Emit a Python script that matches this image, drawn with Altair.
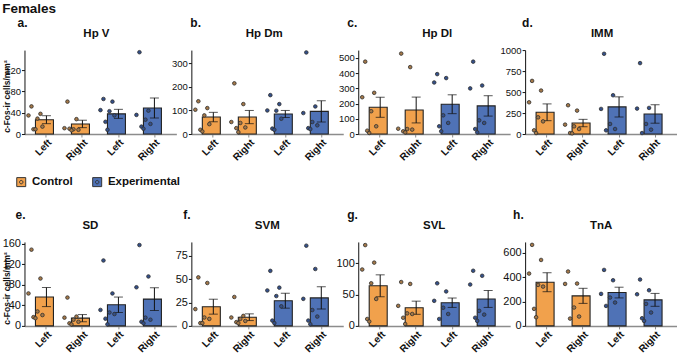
import altair as alt
import pandas as pd

FONT = "Liberation Sans"

regions = ["Hp V", "Hp Dm", "Hp Dl", "IMM", "SD", "SVM", "SVL", "TnA"]
letters = ["a.", "b.", "c.", "d.", "e.", "f.", "g.", "h."]
groups = ["Control", "Control", "Experimental", "Experimental"]
sides = ["Left", "Right", "Left", "Right"]

means = {
    "Hp V": [27, 19, 38, 49],
    "Hp Dm": [72, 72, 85, 96],
    "Hp Dl": [176, 158, 196, 185],
    "IMM": [259, 131, 323, 239],
    "SD": [56, 15, 41, 52],
    "SVM": [20.6, 9.3, 27, 30],
    "SVL": [64, 29, 37, 43],
    "TnA": [359, 247, 274, 214],
}
sems = {
    "Hp V": [7.5, 7, 8.5, 19],
    "Hp Dm": [20, 28, 15, 45],
    "Hp Dl": [66, 85, 62, 67],
    "IMM": [100, 44, 120, 110],
    "SD": [18.5, 7, 15, 22],
    "SVM": [8, 3.6, 8, 12],
    "SVL": [17.5, 10.5, 7.5, 13.5],
    "TnA": [78, 62, 44, 53],
}
points = {
    "Hp V": [[52, 38, 35, 29, 14, 9, 9], [61, 28, 11, 9, 8, 10, 7],
             [66, 61, 45, 43, 35, 23, 8], [154, 44, 36, 27, 19, 14, 10]],
    "Hp Dm": [[139, 110, 103, 79, 42, 18, 11], [215, 127, 51, 47, 28, 25, 8],
              [165, 127, 100, 99, 65, 23, 18], [346, 117, 89, 51, 37, 25, 21]],
    "Hp Dl": [[476, 271, 242, 150, 51, 22, 7], [529, 440, 35, 33, 29, 18, 11],
              [394, 368, 339, 123, 73, 51, 18], [476, 319, 300, 90, 73, 33, 11]],
    "IMM": [[633, 518, 378, 199, 151, 44, 12], [343, 279, 112, 92, 60, 12, 8],
            [956, 462, 299, 120, 60, 44], [845, 311, 303, 120, 52, 12]],
    "SD": [[148, 92, 63, 28, 21, 17, 15], [55, 18, 16, 12, 8, 5, 3],
           [127, 63, 31, 26, 23, 14, 3], [157, 96, 75, 16, 12, 8, 5]],
    "SVM": [[52, 46, 18, 9, 7.5, 3, 3], [31, 10.7, 9, 7.5, 5.3, 4, 3],
            [59, 41, 38, 32, 21, 5.7, 3], [86, 61, 29, 17, 10, 5.7, 1.8]],
    "SVL": [[129, 101, 90, 68, 43, 11, 7], [70, 67, 32, 20, 19, 13, 3],
            [68, 55, 40, 29, 19, 11], [88, 80, 66, 24, 18, 13, 8]],
    "TnA": [[666, 542, 430, 337, 323, 140, 71], [447, 348, 345, 151, 77, 60],
            [460, 375, 263, 233, 192, 164], [381, 293, 260, 181, 110, 63, 41]],
}
y_max = {"Hp V": 158, "Hp Dm": 356, "Hp Dl": 552, "IMM": 1000,
         "SD": 163, "SVM": 90, "SVL": 134, "TnA": 690}
y_ticks = {
    "Hp V": [0, 40, 80, 120], "Hp Dm": [0, 100, 200, 300],
    "Hp Dl": [0, 100, 200, 300, 400, 500], "IMM": [0, 250, 500, 750, 1000],
    "SD": [0, 40, 80, 120, 160], "SVM": [0, 25, 50, 75],
    "SVL": [0, 50, 100], "TnA": [0, 200, 400, 600],
}
y_title = "c-Fos-ir cells/mm²"

# styling
ORANGE = "#f1a14c"
BLUE = "#4f72b6"
DOT_FILL = ["#a47848", "#34508a"]
jitter = [-4, 5, -7, 2, 7, -2, 0, 4]
letter_dx = [-7, -1, -11, -3, -9, -8, -11, -12]
title_dx = [-4, -3, 3, 1, -10, 0, 0, 0]

keys = [f"{g}|{s}" for g, s in zip(groups, sides)]

SYMBOL = ("M-1,-1H1V1H-1Z "
          "M0.38,0A0.38,0.38,0,1,1,-0.38,0A0.38,0.38,0,1,1,0.38,0Z")
legend = alt.Legend(
    orient="none", legendX=-9, legendY=126, direction="horizontal",
    title=None, symbolType=SYMBOL, symbolSize=81,
    symbolStrokeColor="#333333", symbolStrokeWidth=1,
    labelFontSize=11.5, labelFontWeight="bold", labelFont=FONT,
    labelColor="#111111", labelOffset=5, columnPadding=17, padding=0,
)
color = alt.Color("group:N",
                  scale=alt.Scale(domain=["Control", "Experimental"],
                                  range=[ORANGE, BLUE]),
                  legend=legend)
dot_fill = alt.Fill("group:N",
                    scale=alt.Scale(domain=["Control", "Experimental"],
                                    range=DOT_FILL),
                    legend=None)


def panel(i, region):
    row = 0 if i < 4 else 1
    bars = pd.DataFrame({
        "key": keys, "group": groups,
        "mean": means[region],
        "lo": [m - s for m, s in zip(means[region], sems[region])],
        "hi": [m + s for m, s in zip(means[region], sems[region])],
    })
    prow = []
    for k, g, vals in zip(keys, groups, points[region]):
        for j, v in enumerate(vals):
            prow.append({"key": k, "group": g, "value": v, "jit": jitter[j]})
    pts = pd.DataFrame(prow)

    xscale = alt.Scale(paddingInner=0.39, paddingOuter=0.305)
    xaxis = alt.Axis(
        labelExpr="split(datum.value, '|')[1]", labelAngle=-45,
        labelFontSize=10, labelFontWeight="bold",
        labelColor="#111111", labelPadding=0,
        domainColor="#8c8c8c", domainWidth=1.5,
        tickColor="#8c8c8c", tickSize=3, title=None,
    )
    x = alt.X("key:N", sort=keys, scale=xscale, axis=xaxis, title=None)
    yscale = alt.Scale(domain=[0, y_max[region]], nice=False, zero=True)
    axis_kw = dict(
        values=y_ticks[region], tickCount=12, grid=False,
        domainColor="#111111", tickColor="#111111", tickSize=3,
        labelPadding=1, format="d", labelOverlap=False,
        labelFontSize=9.5 if row == 0 else 11, labelColor="#111111",
    )
    if region in ("Hp V", "SD"):
        yaxis = alt.Axis(titleX=-18, titleY=46, titleFontSize=8.5,
                         titleFontWeight="bold", titleAlign="center",
                         titleBaseline="middle", titleColor="#111111",
                         **axis_kw)
        ttl = y_title
    else:
        yaxis = alt.Axis(**axis_kw)
        ttl = None

    bar_layer = alt.Chart(bars).mark_bar(
        stroke="#222222", strokeWidth=1.1
    ).encode(
        x=x,
        y=alt.Y("mean:Q", scale=yscale, axis=yaxis, title=ttl),
        color=color,
    )
    err = alt.Chart(bars).mark_rule(color="#111111", strokeWidth=1).encode(
        x=x, y=alt.Y("lo:Q", scale=yscale), y2="hi:Q")
    cap_lo = alt.Chart(bars).mark_tick(
        color="#111111", thickness=1, size=9).encode(
        x=x, y=alt.Y("lo:Q", scale=yscale))
    cap_hi = alt.Chart(bars).mark_tick(
        color="#111111", thickness=1, size=9).encode(
        x=x, y=alt.Y("hi:Q", scale=yscale))
    dots = alt.Chart(pts).mark_point(
        filled=True, shape="circle", size=13, stroke="#2e2e2e",
        strokeWidth=0.8, opacity=1
    ).encode(
        x=x,
        xOffset=alt.XOffset("jit:Q", scale=alt.Scale(domain=[-10, 10],
                                                     range=[-10, 10])),
        y=alt.Y("value:Q", scale=yscale),
        fill=dot_fill,
    )
    label_df = pd.DataFrame({"t": [letters[i]], "r": [region]})
    letter = alt.Chart(label_df).mark_text(
        align="left", baseline="alphabetic", fontSize=12,
        fontWeight="bold", font=FONT, color="#111111"
    ).encode(x=alt.value(letter_dx[i]), y=alt.value(-23), text="t:N")
    heading = alt.Chart(label_df).mark_text(
        align="center", baseline="alphabetic", fontSize=11.5,
        fontWeight="bold", font=FONT, color="#111111"
    ).encode(x=alt.value(76 + title_dx[i]), y=alt.value(-13), text="r:N")

    return alt.layer(bar_layer, err, cap_lo, cap_hi, dots, letter,
                     heading).properties(width=152, height=84)


panels = [panel(i, r) for i, r in enumerate(regions)]

chart = alt.concat(
    *panels, columns=4, spacing={"row": 108, "column": 15}, bounds="flush"
).resolve_scale(
    y="independent", x="independent"
).properties(
    title=alt.TitleParams("Females", anchor="start", frame="bounds",
                          fontSize=13.5, fontWeight="bold", font=FONT,
                          offset=2, color="#111111"),
    padding={"left": 1.5, "top": 1, "right": 0, "bottom": 0},
).configure(font=FONT).configure_view(strokeWidth=0)

chart.save("out.html", embed_options={"renderer": "svg", "actions": False})
